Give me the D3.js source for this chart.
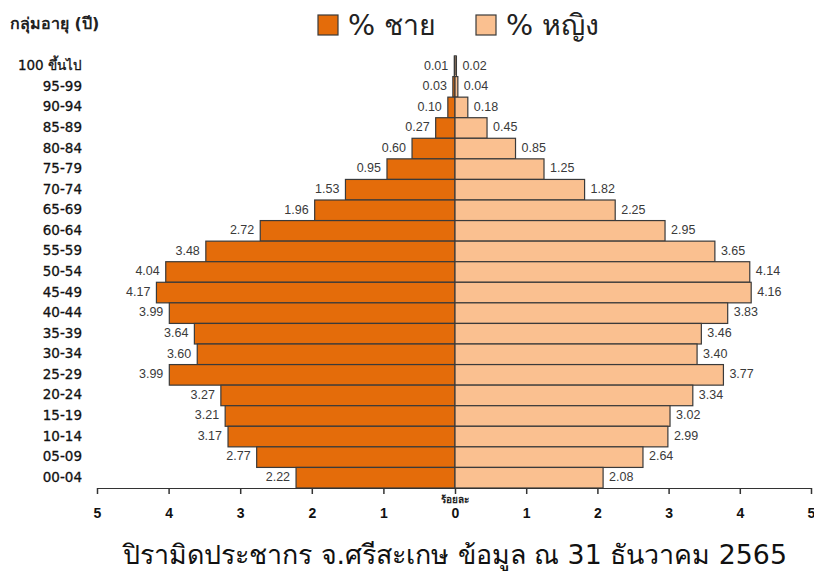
<!DOCTYPE html>
<html><head><meta charset="utf-8">
<script src="https://cdn.jsdelivr.net/npm/d3@7"></script>
<style>body{margin:0;background:#fff}svg{display:block}</style>
</head><body>
<script>
const ageGroups = ["100 ขึ้นไป","95-99","90-94","85-89","80-84","75-79","70-74","65-69","60-64","55-59","50-54","45-49","40-44","35-39","30-34","25-29","20-24","15-19","10-14","05-09","00-04"];
const male = [0.01,0.03,0.10,0.27,0.60,0.95,1.53,1.96,2.72,3.48,4.04,4.17,3.99,3.64,3.60,3.99,3.27,3.21,3.17,2.77,2.22];
const female = [0.02,0.04,0.18,0.45,0.85,1.25,1.82,2.25,2.95,3.65,4.14,4.16,3.83,3.46,3.40,3.77,3.34,3.02,2.99,2.64,2.08];
const xTicks = [0,1,2,3,4,5];
const legendLabels = ["% ชาย","% หญิง"];
const yTitle = "กลุ่มอายุ (ปี)";
const xTitle = "ร้อยละ";
const chartTitle = "ปิรามิดประชากร  จ.ศรีสะเกษ ข้อมูล  ณ 31 ธันวาคม 2565";

const W=814,H=571, cx=455;
const colM="#E46C0A", colF="#FAC090", stroke="#3a3a3a";
const svg=d3.select("body").append("svg").attr("width",W).attr("height",H);
const font="Tahoma, 'DejaVu Sans', 'Noto Sans', sans-serif";
const numFont="Arial, 'Liberation Sans', sans-serif";

const xL=d3.scaleLinear().domain([0,5]).range([cx,97]);
const xR=d3.scaleLinear().domain([0,5]).range([cx,811]);
const y=d3.scaleBand().domain(ageGroups).range([56,488]).padding(0);

const rows=ageGroups.map((g,i)=>({g,m:male[i],f:female[i]}));

svg.append("g").selectAll("rect").data(rows).join("rect")
  .attr("x",d=>xL(d.m)).attr("y",d=>y(d.g)).attr("width",d=>cx-xL(d.m)).attr("height",y.bandwidth())
  .attr("fill",colM).attr("stroke",stroke).attr("stroke-width",1.2);
svg.append("g").selectAll("rect").data(rows).join("rect")
  .attr("x",cx).attr("y",d=>y(d.g)).attr("width",d=>xR(d.f)-cx).attr("height",y.bandwidth())
  .attr("fill",colF).attr("stroke",stroke).attr("stroke-width",1.2);

svg.append("g").selectAll("text").data(rows).join("text")
  .attr("x",d=>xL(d.m)-6).attr("y",d=>y(d.g)+y.bandwidth()/2).attr("text-anchor","end")
  .attr("dominant-baseline","middle").attr("font-family",numFont).attr("font-size",12.5).attr("fill","#3a3a3a")
  .text(d=>d.m.toFixed(2));
svg.append("g").selectAll("text").data(rows).join("text")
  .attr("x",d=>xR(d.f)+6).attr("y",d=>y(d.g)+y.bandwidth()/2).attr("text-anchor","start")
  .attr("dominant-baseline","middle").attr("font-family",numFont).attr("font-size",12.5).attr("fill","#3a3a3a")
  .text(d=>d.f.toFixed(2));

// y labels
svg.append("g").selectAll("text").data(ageGroups).join("text")
  .attr("x",82).attr("y",d=>y(d)+y.bandwidth()/2).attr("text-anchor","end").attr("dominant-baseline","middle")
  .attr("font-family",font).attr("font-size",13.5).attr("fill","#111").attr("stroke","#111").attr("stroke-width",0.3).text(d=>d);

// axes
const axY=488;
const gL=svg.append("g").attr("transform",`translate(0,${axY})`)
  .call(d3.axisBottom(xL).tickValues(xTicks).tickSize(6).tickSizeOuter(0).tickFormat(d3.format("d")));
const gR=svg.append("g").attr("transform",`translate(0,${axY})`)
  .call(d3.axisBottom(xR).tickValues(xTicks.slice(1)).tickSize(6).tickSizeOuter(0).tickFormat(d3.format("d")));
[gL,gR].forEach(g=>{
  g.select(".domain").attr("stroke","#333").attr("stroke-width",1.2);
  g.selectAll(".tick line").attr("stroke","#333").attr("stroke-width",1.5);
  g.selectAll(".tick text").attr("y",20).attr("font-family",numFont).attr("font-size",14).attr("font-weight","bold").attr("fill","#111");
});

svg.append("text").attr("x",cx).attr("y",503).attr("text-anchor","middle").attr("font-family",font)
  .attr("font-size",10).attr("font-weight","bold").attr("fill","#222").text(xTitle);

svg.append("text").attr("x",10).attr("y",29).attr("font-family",font).attr("font-size",16).attr("font-weight","bold").attr("fill","#222").text(yTitle);

// legend
const lg=svg.append("g");
[[318,colM,legendLabels[0]],[476,colF,legendLabels[1]]].forEach(([x,c,t])=>{
  lg.append("rect").attr("x",x).attr("y",15).attr("width",20).attr("height",20).attr("fill",c).attr("stroke",stroke).attr("stroke-width",1.2);
  lg.append("text").attr("x",x+30).attr("y",35).attr("font-family",font).attr("font-size",28.5).attr("fill","#222").text(t);
});

svg.append("text").attr("x",cx).attr("y",564).attr("text-anchor","middle").attr("font-family",font)
  .attr("font-size",26.8).attr("fill","#111").text(chartTitle);
</script>
</body></html>
